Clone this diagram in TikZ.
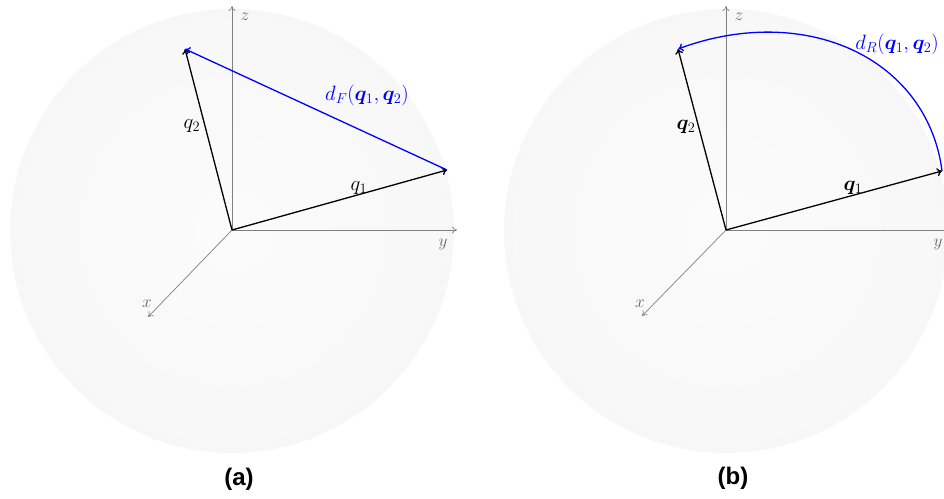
\documentclass[tikz,border=0pt]{standalone}
\usepackage{fontspec}
\usepackage{amsmath,amsfonts,bm}
\newfontfamily\capfont{Liberation Sans}
\usetikzlibrary{arrows.meta}
\tikzset{
  ball/.style={shading=radial, inner color=black!1.5, outer color=black!3, draw=none},
  axis/.style={draw=black!50, line width=0.7pt, -{To[length=5pt,width=7pt]}},
  vec/.style={draw=black, line width=1.3pt, -{To[length=5pt,width=8pt]}},
  dist/.style={draw=blue, line width=1.3pt, -{To[length=5pt,width=8pt]}},
  axlab/.style={text=black!60, font=\fontsize{17}{19}\selectfont, inner sep=0pt},
  veclab/.style={text=black, font=\fontsize{20}{24}\selectfont, inner sep=0pt},
  distlab/.style={text=blue, font=\fontsize{20}{24}\selectfont, inner sep=0pt},
  caplab/.style={font=\capfont\bfseries\fontsize{24}{28}\selectfont, inner sep=0pt}
}
\begin{document}
\begin{tikzpicture}[x=1pt,y=-1pt]
\useasboundingbox (0,0) rectangle (944,498);
\clip (0,0) rectangle (944,498);
% ---------------- panel (a)
\begin{scope}
\coordinate (oa) at (232,230);
\shade[ball] (232,231) circle (222);
\coordinate (za) at (232,6);
\coordinate (ya) at (457,230);
\coordinate (xa) at (148,317);
\coordinate (q1a) at (447,170);
\coordinate (q2a) at (185,49);
\draw[axis] (oa) -- (za);
\draw[axis] (oa) -- (ya);
\draw[axis] (oa) -- (xa);
\draw[vec] (oa) -- (q1a);
\draw[vec] (oa) -- (q2a);
\draw[dist] (q1a) -- (q2a);
\node[axlab] (lza) at (245,17) {$z$};
\node[axlab] (lya) at (443,244) {$y$};
\node[axlab] (lxa) at (147,304) {$x$};
\node[veclab] (lq1a) at (359,188) {$q_1$};
\node[veclab] (lq2a) at (192,126) {$q_2$};
\node[distlab] (lda) at (367,95) {$d_F(\bm{q}_1,\bm{q}_2)$};
\node[caplab] (capa) at (239,479) {(a)};
\end{scope}
% ---------------- panel (b)
\begin{scope}
\coordinate (ob) at (726,230);
\shade[ball] (726,231) circle (222);
\coordinate (zb) at (726,6);
\coordinate (yb) at (951,230);
\coordinate (xb) at (642,316);
\coordinate (q1b) at (942,171);
\coordinate (q2b) at (678,49);
\draw[axis] (ob) -- (zb);
\draw[axis] (ob) -- (yb);
\draw[axis] (ob) -- (xb);
\draw[vec] (ob) -- (q1b);
\draw[vec] (ob) -- (q2b);
\draw[dist] plot[domain=0:1, samples=60, variable=\s]
  ({726 + (sin((1-\s)*96.5)*216 + sin(\s*96.5)*(-48))/sin(96.5)},
   {230 - (sin((1-\s)*96.5)*59 + sin(\s*96.5)*181)/sin(96.5)});
\node[axlab] (lzb) at (739,17) {$z$};
\node[axlab] (lyb) at (938,244) {$y$};
\node[axlab] (lxb) at (640,304) {$x$};
\node[veclab] (lq1b) at (853,188) {$\bm{q}_1$};
\node[veclab] (lq2b) at (686,127) {$\bm{q}_2$};
\node[distlab] (ldb) at (897,44) {$d_R(\bm{q}_1,\bm{q}_2)$};
\node[caplab] (capb) at (733,478) {(b)};
\end{scope}
\end{tikzpicture}
\end{document}
